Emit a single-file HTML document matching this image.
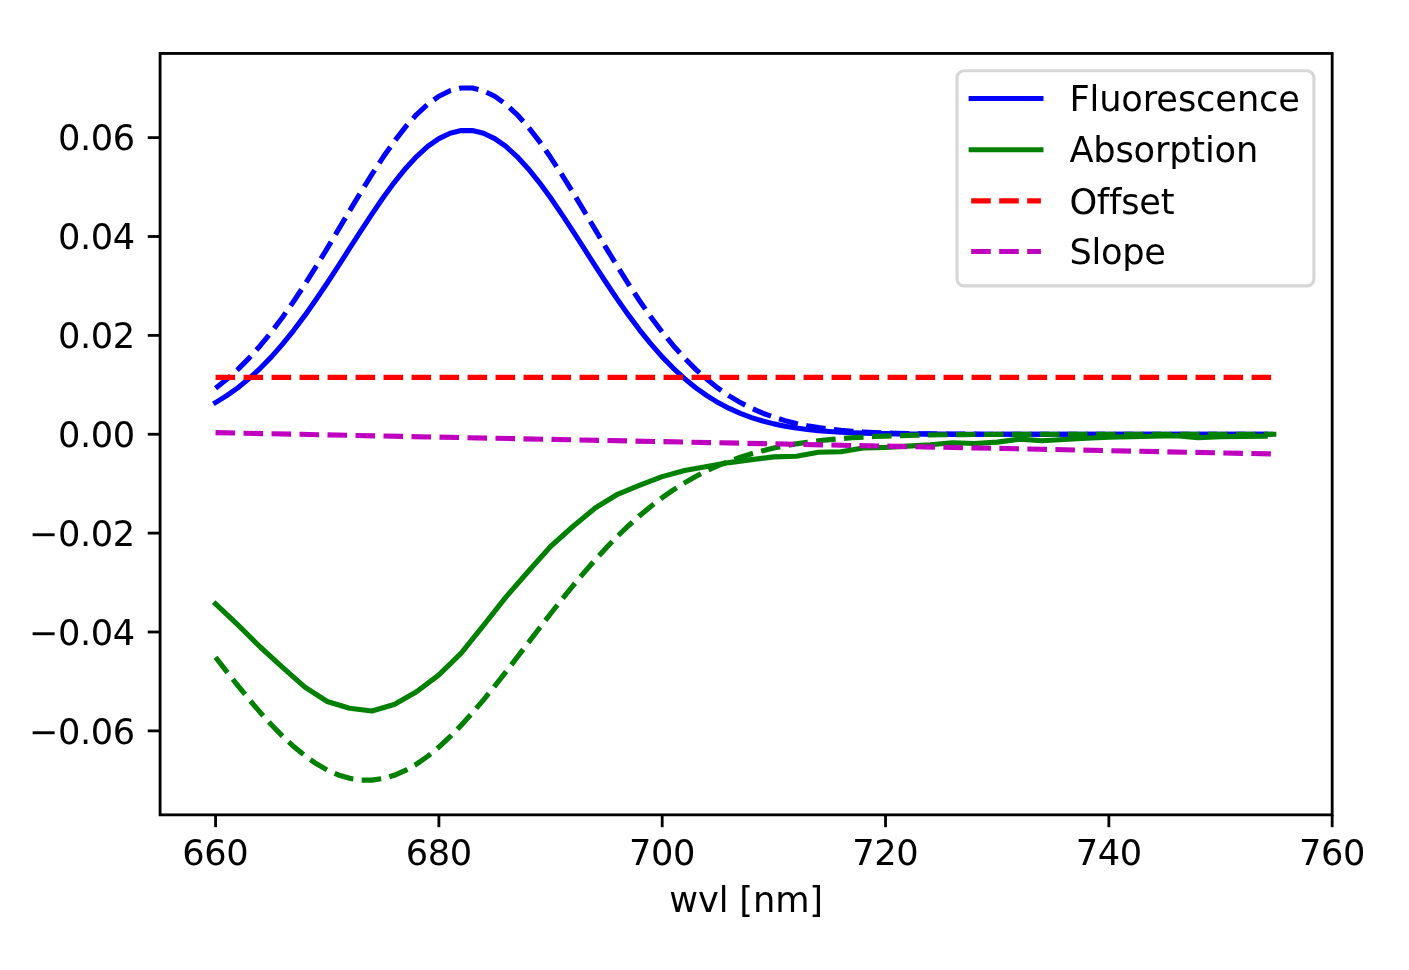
<!DOCTYPE html>
<html lang="en"><head><meta charset="utf-8"><title>Spectral components</title>
<style>
html,body{margin:0;padding:0;background:#fff;}
body{width:1409px;height:970px;overflow:hidden;}
svg{display:block;}
text{font-variant-ligatures:none;font-feature-settings:"liga" 0,"clig" 0;font-family:"DejaVu Sans","Liberation Sans",sans-serif;font-size:35.22px;fill:#000;}
.ln{fill:none;stroke-width:5.120;stroke-linejoin:round;}
.ds{stroke-dasharray:19.550 8.450;stroke-linecap:butt;}
.so{stroke-linecap:square;}
.tk{stroke:#000;stroke-width:2.818;fill:none;stroke-linecap:butt;}
</style></head><body>
<svg width="1409" height="970" viewBox="0 0 1409 970">
<rect x="0" y="0" width="1409" height="970" fill="#ffffff"/>
<defs><clipPath id="ax"><rect x="160.09" y="53.45" width="1172.08" height="761.40"/></clipPath></defs>
<g clip-path="url(#ax)">
<path class="ln so" stroke="#0000ff" d="M215.56 402.57 L226.73 395.69 L237.89 387.73 L249.06 378.63 L260.22 368.34 L271.39 356.85 L282.56 344.15 L293.72 330.31 L304.89 315.40 L316.05 299.57 L327.22 282.98 L338.39 265.87 L349.55 248.48 L360.72 231.12 L371.89 214.11 L383.05 197.80 L394.22 182.54 L405.38 168.68 L416.55 156.55 L427.72 146.45 L438.88 138.63 L450.05 133.30 L461.21 130.60 L472.38 130.60 L483.55 133.30 L494.71 138.63 L505.88 146.45 L517.04 156.55 L528.21 168.68 L539.38 182.54 L550.54 197.80 L561.71 214.11 L572.88 231.12 L584.04 248.48 L595.21 265.87 L606.37 282.98 L617.54 299.57 L628.71 315.40 L639.87 330.31 L651.04 344.15 L662.20 356.85 L673.37 368.34 L684.54 378.63 L695.70 387.73 L706.87 395.69 L718.03 402.57 L729.20 408.45 L740.37 413.43 L751.53 417.60 L762.70 421.05 L773.87 423.88 L785.03 426.17 L796.20 428.02 L807.36 429.48 L818.53 430.64 L829.70 431.53 L840.86 432.23 L852.03 432.76 L863.19 433.16 L874.36 433.46 L885.53 433.68 L896.69 433.85 L907.86 433.96 L919.02 434.05 L930.19 434.11 L941.36 434.15 L952.52 434.19 L963.69 434.21 L974.85 434.22 L986.02 434.23 L997.19 434.24 L1008.35 434.24 L1019.52 434.24 L1030.69 434.25 L1041.85 434.25 L1053.02 434.25 L1064.18 434.25 L1075.35 434.25 L1086.52 434.25 L1097.68 434.25 L1108.85 434.25 L1120.01 434.25 L1131.18 434.25 L1142.35 434.25 L1153.51 434.25 L1164.68 434.25 L1175.84 434.25 L1187.01 434.25 L1198.18 434.25 L1209.34 434.25 L1220.51 434.25 L1231.68 434.25 L1242.84 434.25 L1254.01 434.25 L1265.17 434.25"/>
<path class="ln ds" stroke="#0000ff" d="M215.56 388.18 L226.73 379.35 L237.89 369.34 L249.06 358.13 L260.22 345.68 L271.39 332.01 L282.56 317.17 L293.72 301.24 L304.89 284.35 L316.05 266.65 L327.22 248.35 L338.39 229.68 L349.55 210.93 L360.72 192.40 L371.89 174.41 L383.05 157.30 L394.22 141.41 L405.38 127.06 L416.55 114.57 L427.72 104.21 L438.88 96.22 L450.05 90.79 L461.21 88.04 L472.38 88.04 L483.55 90.79 L494.71 96.22 L505.88 104.21 L517.04 114.57 L528.21 127.06 L539.38 141.41 L550.54 157.30 L561.71 174.41 L572.88 192.40 L584.04 210.93 L595.21 229.68 L606.37 248.35 L617.54 266.65 L628.71 284.35 L639.87 301.24 L651.04 317.17 L662.20 332.01 L673.37 345.68 L684.54 358.13 L695.70 369.34 L706.87 379.35 L718.03 388.18 L729.20 395.90 L740.37 402.58 L751.53 408.30 L762.70 413.16 L773.87 417.24 L785.03 420.65 L796.20 423.45 L807.36 425.75 L818.53 427.61 L829.70 429.11 L840.86 430.30 L852.03 431.23 L863.19 431.97 L874.36 432.54 L885.53 432.98 L896.69 433.31 L907.86 433.56 L919.02 433.75 L930.19 433.89 L941.36 433.99 L952.52 434.07 L963.69 434.12 L974.85 434.16 L986.02 434.19 L997.19 434.21 L1008.35 434.22 L1019.52 434.23 L1030.69 434.24 L1041.85 434.24 L1053.02 434.24 L1064.18 434.25 L1075.35 434.25 L1086.52 434.25 L1097.68 434.25 L1108.85 434.25 L1120.01 434.25 L1131.18 434.25 L1142.35 434.25 L1153.51 434.25 L1164.68 434.25 L1175.84 434.25 L1187.01 434.25 L1198.18 434.25 L1209.34 434.25 L1220.51 434.25 L1231.68 434.25 L1242.84 434.25 L1254.01 434.25 L1265.17 434.25 L1276.34 434.25"/>
<path class="ln so" stroke="#008000" d="M215.56 603.85 L237.89 624.97 L260.22 647.00 L282.56 667.40 L304.89 687.20 L327.22 701.50 L349.55 708.30 L371.89 711.00 L394.22 704.50 L416.55 691.70 L438.88 674.90 L461.21 653.10 L483.55 625.40 L505.88 597.10 L528.21 571.50 L550.54 546.50 L572.88 526.50 L595.21 508.00 L617.54 494.30 L639.87 485.20 L662.20 476.60 L684.54 470.50 L706.87 466.50 L729.20 462.60 L751.53 459.60 L773.87 456.90 L796.20 456.30 L818.53 452.20 L840.86 451.70 L863.19 448.00 L885.53 447.40 L907.86 446.10 L930.19 444.80 L952.52 442.80 L974.85 443.50 L997.19 442.10 L1019.52 439.10 L1041.85 440.80 L1064.18 439.50 L1086.52 438.30 L1108.85 437.10 L1131.18 436.80 L1153.51 436.20 L1175.84 435.60 L1198.18 437.60 L1220.51 436.80 L1242.84 436.40 L1265.17 436.20"/>
<path class="ln ds" stroke="#008000" d="M215.56 657.20 L226.73 671.58 L237.89 685.68 L249.06 699.34 L260.22 712.42 L271.39 724.74 L282.56 736.15 L293.72 746.52 L304.89 755.70 L316.05 763.57 L327.22 770.02 L338.39 774.96 L349.55 778.32 L360.72 780.06 L371.89 780.14 L383.05 778.55 L394.22 775.31 L405.38 770.46 L416.55 764.09 L427.72 756.26 L438.88 747.10 L450.05 736.73 L461.21 725.30 L472.38 712.93 L483.55 699.81 L494.71 686.07 L505.88 671.89 L517.04 657.43 L528.21 642.83 L539.38 628.24 L550.54 613.80 L561.71 599.64 L572.88 585.85 L584.04 572.54 L595.21 559.79 L606.37 547.66 L617.54 536.21 L628.71 525.47 L639.87 515.47 L651.04 506.21 L662.20 497.70 L673.37 489.93 L684.54 482.87 L695.70 476.50 L706.87 470.79 L718.03 465.70 L729.20 461.18 L740.37 457.21 L751.53 453.72 L762.70 450.69 L773.87 448.06 L785.03 445.79 L796.20 443.85 L807.36 442.20 L818.53 440.80 L829.70 439.62 L840.86 438.63 L852.03 437.81 L863.19 437.12 L874.36 436.56 L885.53 436.10 L896.69 435.72 L907.86 435.42 L919.02 435.17 L930.19 434.97 L941.36 434.81 L952.52 434.69 L963.69 434.59 L974.85 434.51 L986.02 434.45 L997.19 434.40 L1008.35 434.37 L1019.52 434.34 L1030.69 434.32 L1041.85 434.30 L1053.02 434.29 L1064.18 434.28 L1075.35 434.27 L1086.52 434.26 L1097.68 434.26 L1108.85 434.26 L1120.01 434.26 L1131.18 434.25 L1142.35 434.25 L1153.51 434.25 L1164.68 434.25 L1175.84 434.25 L1187.01 434.25 L1198.18 434.25 L1209.34 434.25 L1220.51 434.25 L1231.68 434.25 L1242.84 434.25 L1254.01 434.25 L1265.17 434.25 L1276.34 434.25"/>
<path class="ln ds" stroke="#ff0000" d="M215.56 377.40 L1276.34 377.40"/>
<path class="ln ds" stroke="#bf00bf" d="M215.56 432.62 L1276.34 454.02"/>
</g>
<g class="tk">
<line x1="215.56" y1="814.85" x2="215.56" y2="827.18"/>
<line x1="438.88" y1="814.85" x2="438.88" y2="827.18"/>
<line x1="662.20" y1="814.85" x2="662.20" y2="827.18"/>
<line x1="885.53" y1="814.85" x2="885.53" y2="827.18"/>
<line x1="1108.85" y1="814.85" x2="1108.85" y2="827.18"/>
<line x1="1332.17" y1="814.85" x2="1332.17" y2="827.18"/>
<line x1="147.76" y1="730.87" x2="160.09" y2="730.87"/>
<line x1="147.76" y1="632.00" x2="160.09" y2="632.00"/>
<line x1="147.76" y1="533.12" x2="160.09" y2="533.12"/>
<line x1="147.76" y1="434.25" x2="160.09" y2="434.25"/>
<line x1="147.76" y1="335.38" x2="160.09" y2="335.38"/>
<line x1="147.76" y1="236.50" x2="160.09" y2="236.50"/>
<line x1="147.76" y1="137.63" x2="160.09" y2="137.63"/>
</g>
<rect x="160.09" y="53.45" width="1172.08" height="761.40" fill="none" stroke="#000" stroke-width="2.818" stroke-linejoin="miter"/>
<g text-anchor="middle" letter-spacing="-0.4">
<text x="215.36" y="865.0">660</text>
<text x="438.68" y="865.0">680</text>
<text x="662.00" y="865.0">700</text>
<text x="885.33" y="865.0">720</text>
<text x="1108.65" y="865.0">740</text>
<text x="1331.97" y="865.0">760</text>
</g>
<g text-anchor="end" letter-spacing="-0.4">
<text x="134.74" y="150.48">0.06</text>
<text x="134.74" y="249.35">0.04</text>
<text x="134.74" y="348.23">0.02</text>
<text x="134.74" y="447.10">0.00</text>
<text x="134.74" y="545.97">−0.02</text>
<text x="134.74" y="644.85">−0.04</text>
<text x="134.74" y="743.72">−0.06</text>
</g>
<text x="746.13" y="912.0" text-anchor="middle" letter-spacing="-0.13">wvl [nm]</text>
<rect x="957.04" y="70.8" width="356.86" height="215.07" rx="7" ry="7" fill="#ffffff" fill-opacity="0.8" stroke="#cccccc" stroke-opacity="0.8" stroke-width="3.1"/>
<path class="ln so" stroke="#0000ff" d="M971.2 98.5 L1040.9 98.5"/>
<path class="ln so" stroke="#008000" d="M971.2 149.75 L1040.9 149.75"/>
<path class="ln ds" stroke="#ff0000" d="M971.2 200.9 L1040.9 200.9"/>
<path class="ln ds" stroke="#bf00bf" d="M971.2 251.54 L1040.9 251.54"/>
<text x="1069.4" y="111.4" letter-spacing="-0.13">Fluorescence</text>
<text x="1069.4" y="162.2" letter-spacing="-0.2">Absorption</text>
<text x="1069.4" y="213.5" letter-spacing="-0.25">Offset</text>
<text x="1069.4" y="264.2" letter-spacing="-0.3">Slope</text>
</svg></body></html>
